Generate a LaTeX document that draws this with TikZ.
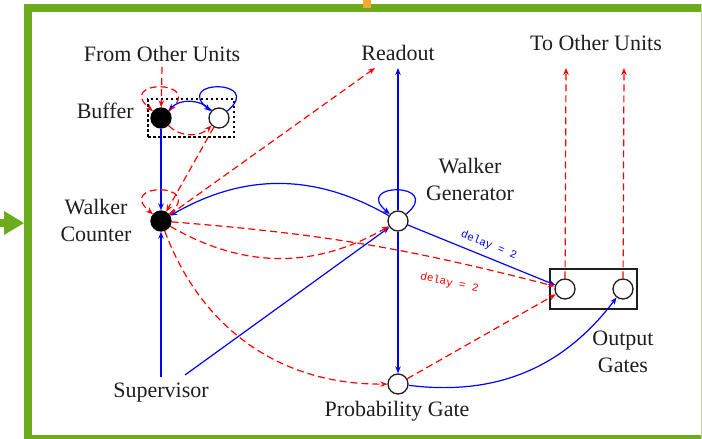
\documentclass[tikz,border=0pt]{standalone}
\usepackage{fontspec}
\setmainfont{Liberation Serif}
\newfontfamily\delayfont{Liberation Mono}
\usetikzlibrary{arrows.meta}
\definecolor{framegreen}{RGB}{108,172,28}
\definecolor{tickorange}{RGB}{247,166,48}
\definecolor{inkgray}{RGB}{30,30,30}
\tikzset{
  unit/.style={circle,draw=inkgray,line width=1.3pt,fill=white,minimum size=20pt,inner sep=0pt},
  heldunit/.style={unit,fill=black,draw=black},
  lbl/.style={font=\fontsize{22}{27}\selectfont,text=inkgray,inner sep=0pt,align=center},
  headtip/.style={-{Stealth[length=7pt,width=5.5pt]}},
  sig/.style={draw=blue,line width=1.2pt,headtip},
  ctl/.style={draw=red,line width=1.2pt,dash pattern=on 7pt off 4pt,headtip},
  dly/.style={font=\delayfont\fontsize{11}{13}\selectfont,sloped,inner sep=2pt},
  selfloop/.style={out=40,in=140,min distance=50pt},
}
\begin{document}
\begin{tikzpicture}[x=1pt,y=1pt]
\useasboundingbox (0,0) rectangle (702,-439);

% slide frame
\fill[framegreen] (24,-4) rectangle (32,-439);
\fill[framegreen] (24,-4) rectangle (702,-12);
\fill[framegreen] (24,-435) rectangle (702,-439);
\fill[framegreen!45] (700.5,-4) rectangle (702,-439);
\fill[framegreen] (0,-219) rectangle (6,-227);
\fill[framegreen] (4,-211) -- (24,-223) -- (4,-235) -- cycle;
\fill[tickorange] (363,0) rectangle (371,-8);

% labels
\node[lbl,anchor=base] (fromU) at (162,-61) {From Other Units};
\node[lbl,anchor=base east] (bufl) at (134,-118) {Buffer};
\node[lbl] (wcl) at (96,-220) {Walker\\Counter};
\node[lbl,anchor=base] (readout) at (398,-60) {Readout};
\node[lbl] (wgl) at (470,-179) {Walker\\Generator};
\node[lbl,anchor=base] (toU) at (596,-50) {To Other Units};
\node[lbl] (ogl) at (623,-352) {Output\\Gates};
\node[lbl,anchor=base] (sup) at (161,-397) {Supervisor};
\node[lbl,anchor=base] (pgl) at (397,-416) {Probability Gate};

% boxes
\node[draw=black,line width=1.3pt,dash pattern=on 2.5pt off 2.5pt,minimum width=86pt,minimum height=38pt,inner sep=0pt] (bufbox) at (191,-118) {};
\node[draw=inkgray,line width=1.3pt,minimum width=87pt,minimum height=40pt,inner sep=0pt] (obox) at (593.5,-289) {};

% units
\node[heldunit] (B) at (161,-118) {};
\node[unit] (W) at (219,-118) {};
\node[heldunit] (C) at (161,-221) {};
\node[unit] (G) at (398,-221) {};
\node[unit] (P) at (398,-384) {};
\node[unit] (O1) at (565,-289) {};
\node[unit] (O2) at (623,-289) {};

% free ends
\coordinate (roIn) at (398,-68);
\coordinate (roSide) at (375,-68);
\coordinate (out1) at (566,-68);
\coordinate (out2) at (624,-68);
\coordinate (supA) at (161,-377);
\coordinate (supB) at (185,-375);
\coordinate (fromIn) at (162,-67);

% excitatory (blue) connections
\draw[sig] (B) -- (C);
\draw[sig] (W) to[bend right=45] (B);
\draw[sig] (W) to[selfloop] (W);
\draw[sig] (G) to[bend right=30] (C);
\draw[sig] (G) to[selfloop] (G);
\draw[sig] (G) -- (roIn);
\draw[sig] (G) -- (P);
\draw[sig] (supA) -- (C);
\draw[sig] (supB) -- (G);
\draw[sig] (G) -- node[pos=0.52,above=4pt,dly,text=blue] {delay = 2} (O1);
\draw[sig] (P) to[bend right=30] (O2);

% control (red dashed) connections
\draw[ctl] (fromIn) -- (B);
\draw[ctl] (B) to[selfloop] (B);
\draw[ctl] (B) to[bend right=45] (W);
\draw[ctl] (W) -- (C);
\draw[ctl] (C) to[selfloop] (C);
\draw[ctl] (C) -- (roSide);
\draw[ctl] (C) to[bend right=30] (G);
\draw[ctl] (C) to[bend left=5] node[pos=0.75,below=14pt,dly,text=red] {delay = 2} (O1);
\draw[ctl] (C) to[bend right=35] (P);
\draw[ctl] (P) -- (O1);
\draw[ctl] (O1) -- (out1);
\draw[ctl] (O2) -- (out2);
\end{tikzpicture}
\end{document}
